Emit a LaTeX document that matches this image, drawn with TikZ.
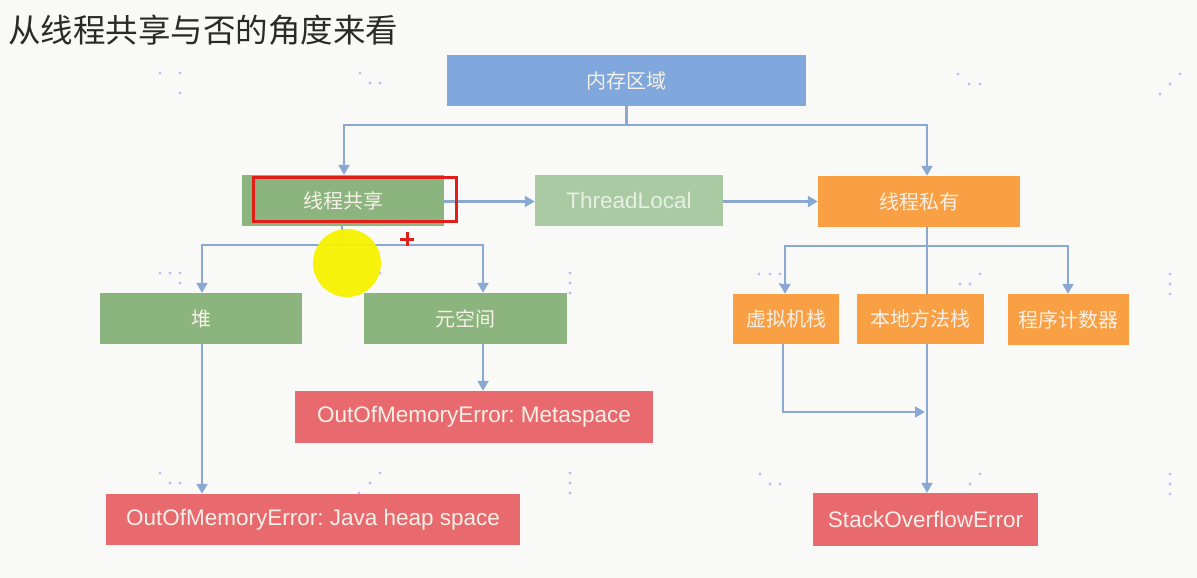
\documentclass[tikz,border=0pt]{standalone}
\usepackage{fontspec}
\setmainfont{Liberation Sans}
\newfontfamily\cjk{Noto Sans CJK SC}
\usetikzlibrary{arrows.meta,calc}
\pgfdeclarelayer{back}
\pgfdeclarelayer{bg}
\pgfsetlayers{back,bg,main}
\frenchspacing
\definecolor{pagebg}{HTML}{F9FAF8}
\definecolor{bluebox}{HTML}{80A8DC}
\definecolor{greenbox}{HTML}{8CB47E}
\definecolor{lightgreen}{HTML}{AACAA4}
\definecolor{orangebox}{HTML}{F9A044}
\definecolor{redbox}{HTML}{E86A6F}
\definecolor{linec}{HTML}{8AA8D2}
\definecolor{boxtext}{HTML}{F6F0E8}
\definecolor{tltext}{HTML}{E8F0E4}
\definecolor{hlred}{HTML}{E02018}
\definecolor{dotc}{HTML}{C9B8F2}
\definecolor{titlec}{HTML}{2A2A2A}
\definecolor{cursor}{HTML}{F7F200}
\begin{document}
\begin{tikzpicture}[x=1pt,y=-1pt,
  box/.style={inner sep=0pt, minimum height=51pt, text=boxtext},
  cjkbox/.style={box, font=\fontsize{20}{24}\selectfont\cjk},
  latbox/.style={box, font=\fontsize{22.5}{26}\selectfont},
  conn/.style={draw=linec, line width=2.1pt},
  arr/.style={conn, -{Triangle[width=11pt,length=10pt]}}]
\begin{pgfonlayer}{back}
\fill[pagebg] (0,0) rectangle (1197,578);
\end{pgfonlayer}
\useasboundingbox (0,0) rectangle (1197,578);

% title
\node[anchor=west, inner sep=0pt, text=titlec, font=\fontsize{32.5}{36}\selectfont\cjk] (title) at (8,30) {从线程共享与否的角度来看};

% decorative dots
\begin{pgfonlayer}{back}
\foreach \p in {(160,73),(180,73),(180,93),(360,73),(370,83),(380,83),(581,73),(570,83),(560,93),
  (760,74),(780,74),(780,93),(958,74),(969,84),(980,84),(1180,74),(1170,84),(1160,94),
  (759,274),(770,274),(780,274),(780,284),(960,284),(970,284),(980,274),(1170,274),(1170,284),(1170,294),
  (160,273),(170,273),(180,273),(180,283),(359,283),(370,283),(380,273),(570,273),(570,283),(570,293),
  (160,473),(170,483),(180,483),(380,473),(370,483),(359,493),(570,473),(570,483),(570,493),
  (760,474),(770,484),(780,484),(980,474),(970,484),(960,494),(1170,474),(1170,484),(1170,494)}
  \fill[dotc] \p circle (1.7pt);
\end{pgfonlayer}

% nodes
\node[cjkbox, fill=bluebox, minimum width=359pt] (mem) at (626.5,80.5) {内存区域};
\node[cjkbox, fill=greenbox, minimum width=202pt] (share) at (343,200.5) {线程共享};
\node[latbox, fill=lightgreen, text=tltext, minimum width=188pt] (tl) at (629,200.5) {ThreadLocal};
\node[cjkbox, fill=orangebox, minimum width=202pt] (priv) at (919,201.5) {线程私有};
\node[cjkbox, fill=greenbox, minimum width=202pt] (heap) at (201,318.5) {堆};
\node[cjkbox, fill=greenbox, minimum width=203pt] (meta) at (465.5,318.5) {元空间};
\node[cjkbox, fill=orangebox, minimum width=106pt, minimum height=50pt] (vm) at (786,319) {虚拟机栈};
\node[cjkbox, fill=orangebox, minimum width=127pt, minimum height=50pt] (native) at (920.5,319) {本地方法栈};
\node[cjkbox, fill=orangebox, minimum width=121pt] (pc) at (1068.5,319.5) {程序计数器};
\node[latbox, fill=redbox, minimum width=358pt, minimum height=52pt] (oommeta) at (474,417) {OutOfMemoryError: Metaspace};
\node[latbox, fill=redbox, minimum width=414pt] (oomheap) at (313,519.5) {OutOfMemoryError: Java heap space};
\node[latbox, fill=redbox, minimum width=225pt, minimum height=53pt] (soe) at (925.5,519.5) {StackOverflowError};

\coordinate (vmj) at (925,412);

% connectors
\begin{pgfonlayer}{bg}
\draw[arr] (mem.south) -- ++(0,19) -| ([xshift=1pt]share.north);
\draw[arr] (mem.south) -- ++(0,19) -| ([xshift=8pt]priv.north);
\draw[arr] ([yshift=-1pt]share.east) -- ([yshift=-1pt]share.east -| tl.west);
\draw[arr] ([yshift=-1pt]tl.east) -- ([yshift=-1pt]tl.east -| priv.west);
\draw[arr] ([xshift=-1pt]share.south) -- ++(0,19) -| ([xshift=1pt]heap.north);
\draw[arr] ([xshift=-1pt]share.south) -- ++(0,19) -| ([xshift=17.5pt]meta.north);
\draw[arr] ([xshift=8pt]priv.south) -- ++(0,19) -| ([xshift=-1pt]vm.north);
\draw[arr] ([xshift=8pt]priv.south) -- ++(0,19) -| ([xshift=-0.5pt]pc.north);
\draw[arr] ([xshift=8pt]priv.south) -- ([xshift=1.5pt]soe.north);
\draw[arr] ([xshift=-3pt]vm.south) |- (vmj);
\draw[arr] ([xshift=17.5pt]meta.south) -- ([xshift=9pt]oommeta.north);
\draw[arr] ([xshift=1pt]heap.south) -- ([xshift=-111pt]oomheap.north);
\end{pgfonlayer}

% highlight rectangle
\node[draw=hlred, line width=3pt, minimum width=203pt, minimum height=44pt, inner sep=0pt] (hl) at (355,199.5) {};

% cursor marks
\fill[cursor, opacity=0.95] (347,263) circle (34pt);
\draw[hlred, line width=3pt] (400,239) -- (414,239) (407,232) -- (407,246);
\end{tikzpicture}
\end{document}
